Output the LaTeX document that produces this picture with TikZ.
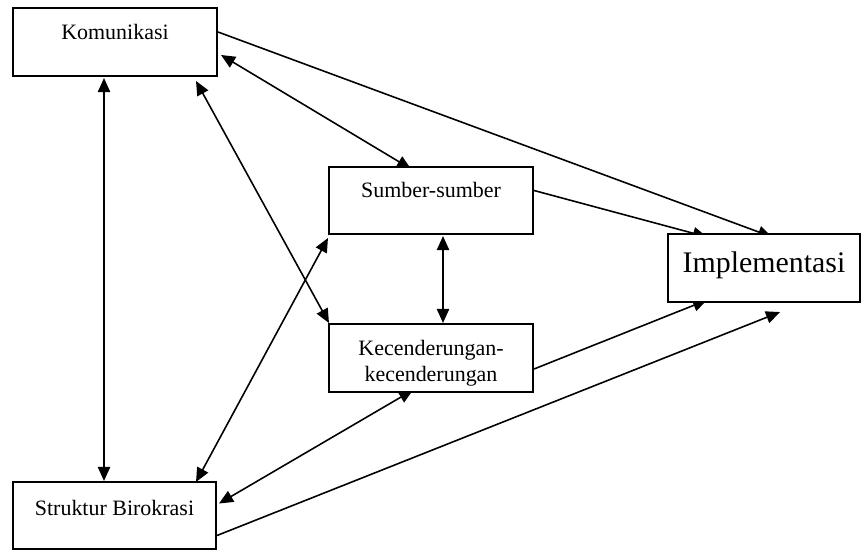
\documentclass[tikz,border=0pt]{standalone}
\usepackage{fontspec}
\setmainfont{Liberation Serif}
\usetikzlibrary{arrows.meta,calc,backgrounds}

\begin{document}
\begin{tikzpicture}[x=0.02cm, y=-0.02cm,
  box/.style={shape=rectangle, draw=black, fill=white, line width=1.2pt, inner sep=0pt, minimum width=4.08cm, minimum height=1.36cm, font=\fontsize{12.5}{15}\selectfont},
  one/.style={-{Triangle[length=8pt,width=7pt]}, line width=0.9pt, draw=black},
  both/.style={{Triangle[length=8pt,width=7pt]}-{Triangle[length=8pt,width=7pt]}, line width=0.9pt, draw=black}]
\useasboundingbox (0,0) rectangle (862,550);
\node[box, text height=0.64cm, text depth=0.72cm] (kom) at (115,42) {Komunikasi};
\node[box, text height=0.62cm, text depth=0.72cm, minimum height=1.34cm] (sum) at (431,200.5) {Sumber-sumber};
\node[box, align=center] (kec) at (431,358) {\rule{0pt}{14.5pt}Kecenderungan-\\kecenderungan};
\node[box, minimum width=3.84cm, text height=0.78cm, text depth=0.58cm, font=\fontsize{17}{20}\selectfont] (imp) at (764,268) {Implementasi};
\node[box, minimum width=4.06cm, text height=0.66cm, text depth=0.68cm, minimum height=1.34cm] (str) at (114.5,515.5) {Struktur Birokrasi};
\begin{scope}[on background layer]
\draw[one] ($(kom.east)+(0,-10)$) -- ($(imp.north)+(8,4)$);
\draw[one] ($(sum.east)+(0,-10)$) -- ($(imp.north west)+(40,4)$);
\draw[one] ($(kec.east)+(0,11)$) -- ($(imp.south west)+(40,-3)$);
\draw[one] ($(str.east)+(0,20)$) -- ($(imp.south)+(16,9)$);
\draw[both] ($(kom.east)+(3,13)$) -- ($(sum.north)+(-20,3)$);
\draw[both] ($(kom.south)+(-11,1)$) -- ($(str.north)+(-10.5,0)$);
\draw[both] ($(kom.south east)+(-22,4)$) -- ($(kec.north west)+(1,0)$);
\draw[both] ($(sum.south)+(12,1)$) -- ($(kec.north)+(12,0)$);
\draw[both] ($(str.north east)+(-21,1)$) -- ($(sum.south west)+(0,3)$);
\draw[both] ($(str.east)+(2,-12)$) -- ($(kec.south)+(-18,-3)$);
\end{scope}
\end{tikzpicture}
\end{document}
